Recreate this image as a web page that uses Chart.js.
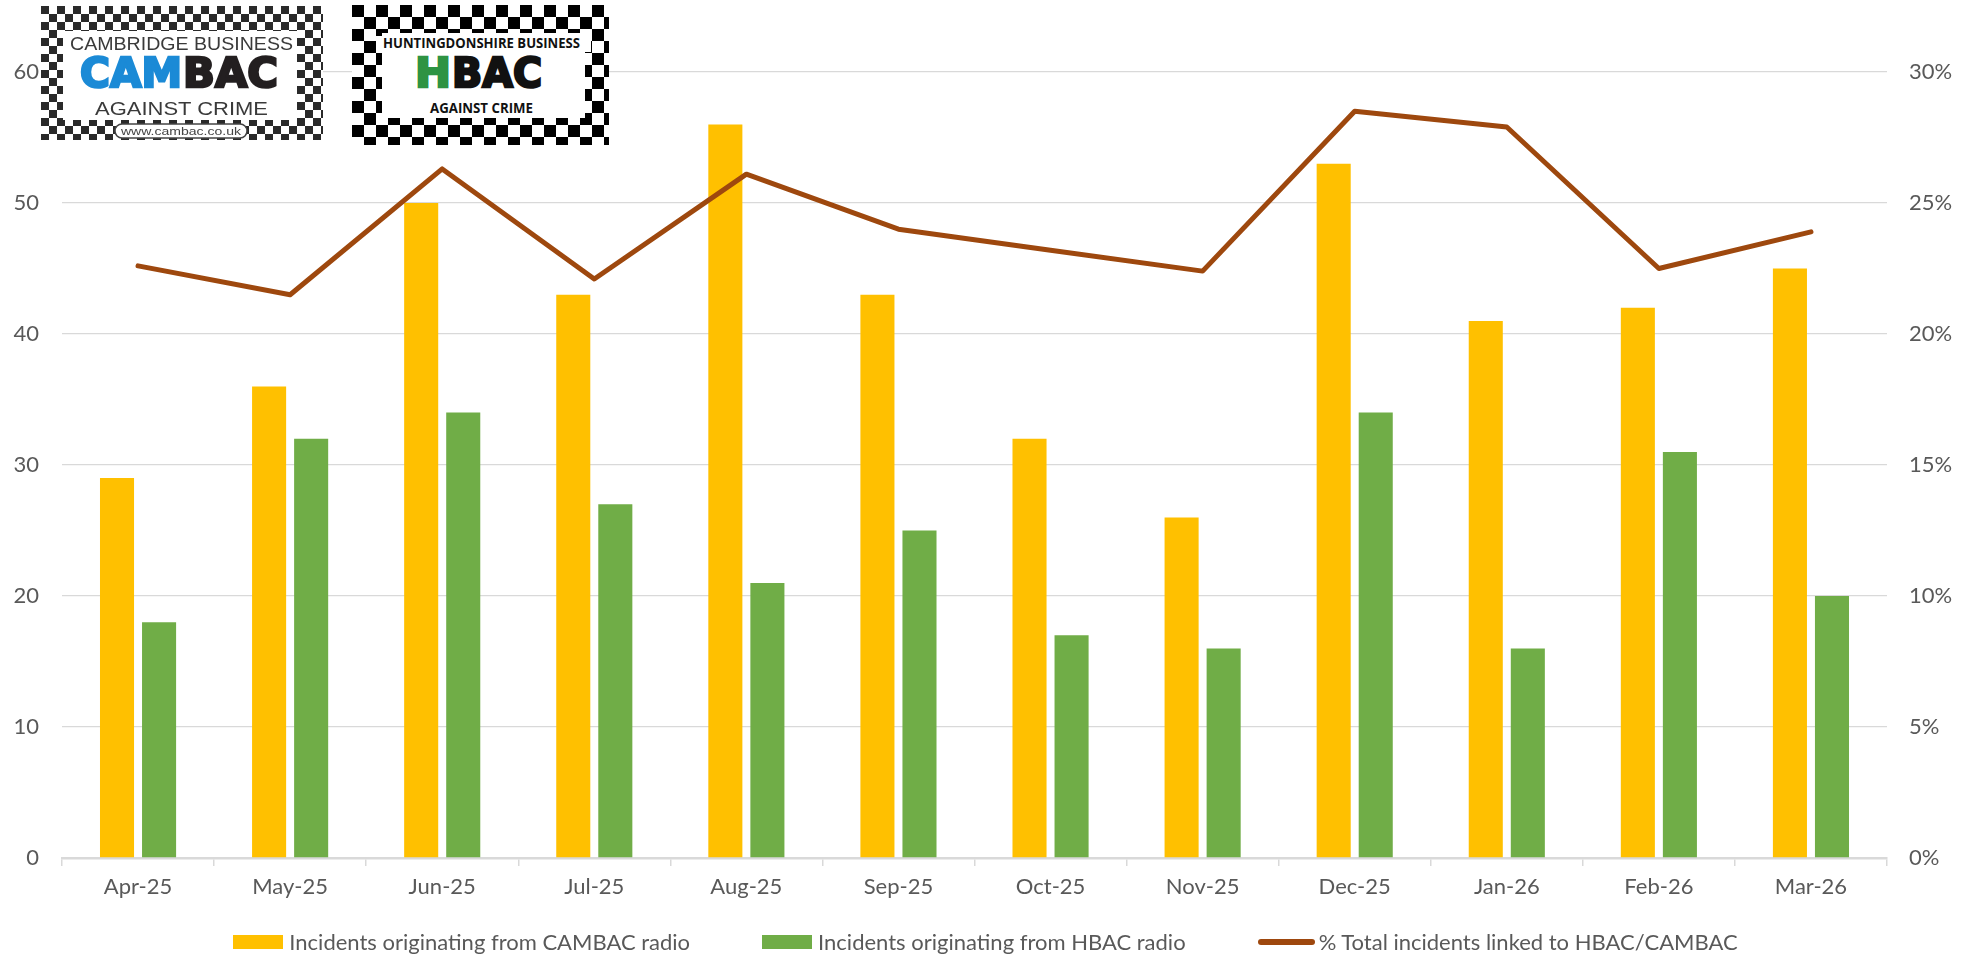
<!DOCTYPE html>
<html>
<head>
<meta charset="utf-8">
<script src="https://cdn.jsdelivr.net/npm/chart.js@4.4.1/dist/chart.umd.min.js"></script>
<style>
  body { margin: 0; background: #fff; }
  #wrap { position: relative; width: 1971px; height: 958px; overflow: hidden; }
  #chart { position: absolute; left: 0; top: 0; }
  .logo { position: absolute; }
  #legend { position: absolute; left: 0; top: 929px; width: 1971px; display: flex; justify-content: center; gap: 72px;
            font: 22px Lato, sans-serif; line-height: 26px; color: #595959; white-space: nowrap; }
  #legend .item { display: flex; align-items: center; }
  #legend .sw { display: inline-block; width: 50px; height: 14px; margin-right: 6px; }
  #legend .ln { display: inline-block; width: 57px; height: 6px; border-radius: 3px; margin-right: 4px; }
</style>
</head>
<body>
<div id="wrap">
  <canvas id="chart" width="1971" height="958"></canvas>

  <!-- CAMBAC logo -->
  <svg class="logo" style="left:41px;top:6px" width="282" height="134">
    <defs>
      <pattern id="chk1" width="16" height="16" patternUnits="userSpaceOnUse">
        <rect width="16" height="16" fill="#fff"/>
        <rect width="8" height="8" fill="#2a2a2a"/>
        <rect x="8" y="8" width="8" height="8" fill="#2a2a2a"/>
      </pattern>
    </defs>
    <rect width="282" height="134" fill="url(#chk1)"/>
    <rect x="22" y="25" width="234" height="89" fill="#fff"/>
    <text x="29" y="44" font-family="Liberation Sans" font-size="18" fill="#3a3a3a" textLength="223" lengthAdjust="spacingAndGlyphs">CAMBRIDGE BUSINESS</text>
    <text x="39" y="81" font-family="DejaVu Sans" font-weight="bold" font-size="41" fill="#1b8ad6" stroke="#1b8ad6" stroke-width="2.5" textLength="102" lengthAdjust="spacingAndGlyphs">CAM</text>
    <text x="142" y="81" font-family="DejaVu Sans" font-weight="bold" font-size="41" fill="#231f20" stroke="#231f20" stroke-width="2.5" textLength="95" lengthAdjust="spacingAndGlyphs">BAC</text>
    <text x="54" y="109" font-family="Liberation Sans" font-size="18" fill="#3a3a3a" textLength="173" lengthAdjust="spacingAndGlyphs">AGAINST CRIME</text>
    <rect x="74" y="118" width="132" height="14" rx="7" fill="#fff" stroke="#444" stroke-width="1.5"/>
    <text x="80" y="129" font-family="Liberation Sans" font-size="11" fill="#444" textLength="120" lengthAdjust="spacingAndGlyphs">www.cambac.co.uk</text>
  </svg>

  <!-- HBAC logo -->
  <svg class="logo" style="left:352px;top:5px" width="257" height="140">
    <defs>
      <pattern id="chk2" width="24" height="24" patternUnits="userSpaceOnUse">
        <rect width="24" height="24" fill="#fff"/>
        <rect width="12" height="12" fill="#000"/>
        <rect x="12" y="12" width="12" height="12" fill="#000"/>
      </pattern>
    </defs>
    <rect width="257" height="140" fill="url(#chk2)"/>
    <rect x="30" y="28" width="203" height="85" fill="#fff"/>
    <rect x="24" y="31" width="215" height="16" fill="#fff"/>
    <text x="31" y="43" font-family="Open Sans" font-weight="bold" font-size="13.5" fill="#111" textLength="197" lengthAdjust="spacingAndGlyphs">HUNTINGDONSHIRE BUSINESS</text>
    <text x="63" y="82" font-family="DejaVu Sans" font-weight="bold" font-size="41" fill="#2e9343" stroke="#2e9343" stroke-width="2.5" textLength="36" lengthAdjust="spacingAndGlyphs">H</text>
    <text x="100" y="82" font-family="DejaVu Sans" font-weight="bold" font-size="41" fill="#111" stroke="#111" stroke-width="2.5" textLength="90" lengthAdjust="spacingAndGlyphs">BAC</text>
    <text x="78" y="108" font-family="Open Sans" font-weight="bold" font-size="14" fill="#111" textLength="103" lengthAdjust="spacingAndGlyphs">AGAINST CRIME</text>
  </svg>

  <div id="legend"></div>
</div>

<script>
// data
const months = ['Apr-25', 'May-25', 'Jun-25', 'Jul-25', 'Aug-25', 'Sep-25',
                'Oct-25', 'Nov-25', 'Dec-25', 'Jan-26', 'Feb-26', 'Mar-26'];
const cambacRadio = [29, 36, 50, 43, 56, 43, 32, 26, 53, 41, 42, 45];
const hbacRadio = [18, 32, 34, 27, 21, 25, 17, 16, 34, 16, 31, 20];
const pctLinked = [22.6, 21.5, 26.3, 22.1, 26.1, 24.0, 23.2, 22.4, 28.5, 27.9, 22.5, 23.9];

const countTicks = [0, 10, 20, 30, 40, 50, 60];
const pctTicks = [0, 5, 10, 15, 20, 25, 30];

const seriesNames = ['Incidents originating from CAMBAC radio',
                     'Incidents originating from HBAC radio',
                     '% Total incidents linked to HBAC/CAMBAC'];
const seriesColors = ['#FFC000', '#70AD47', '#9E480E'];

const textColor = '#595959';
const gridColor = '#d9d9d9';

function drawChart() {
    Chart.defaults.font.family = 'Lato';
    Chart.defaults.font.size = 22;
    Chart.defaults.color = textColor;

    new Chart(document.getElementById('chart'), {
        type: 'bar',
        data: {
            labels: months,
            datasets: [{
                label: seriesNames[0],
                data: cambacRadio,
                backgroundColor: seriesColors[0],
                yAxisID: 'y',
                order: 1,
                barPercentage: 0.81,
                categoryPercentage: 0.553
            }, {
                label: seriesNames[1],
                data: hbacRadio,
                backgroundColor: seriesColors[1],
                yAxisID: 'y',
                order: 1,
                barPercentage: 0.81,
                categoryPercentage: 0.553
            }, {
                type: 'line',
                label: seriesNames[2],
                data: pctLinked,
                borderColor: seriesColors[2],
                backgroundColor: seriesColors[2],
                borderWidth: 5,
                pointRadius: 0,
                tension: 0,
                borderCapStyle: 'round',
                borderJoinStyle: 'round',
                yAxisID: 'y1',
                order: 0
            }]
        },
        options: {
            responsive: false,
            animation: false,
            devicePixelRatio: 1,
            layout: { padding: { top: 72, left: 0, right: 0, bottom: 0 } },
            plugins: {
                legend: { display: false },
                tooltip: { enabled: false }
            },
            scales: {
                x: {
                    grid: { drawOnChartArea: false, color: gridColor, lineWidth: 1.5, tickLength: 8 },
                    border: { color: gridColor, width: 2.5 },
                    ticks: { padding: 8 },
                    afterFit: s => { s.height = 100; }
                },
                y: {
                    position: 'left',
                    min: countTicks[0],
                    max: countTicks[countTicks.length - 1],
                    afterBuildTicks: s => { s.ticks = countTicks.map(v => ({ value: v })); },
                    grid: { color: gridColor, lineWidth: 1.3, drawTicks: false },
                    border: { display: false },
                    ticks: { padding: 23 },
                    afterFit: s => { s.width = 62; }
                },
                y1: {
                    position: 'right',
                    min: pctTicks[0],
                    max: pctTicks[pctTicks.length - 1],
                    afterBuildTicks: s => { s.ticks = pctTicks.map(v => ({ value: v })); },
                    grid: { drawOnChartArea: false, drawTicks: false },
                    border: { display: false },
                    ticks: { padding: 22, callback: v => v + '%' },
                    afterFit: s => { s.width = 84; }
                }
            }
        }
    });

    // legend below the chart
    const legend = document.getElementById('legend');
    seriesNames.forEach((name, i) => {
        const item = document.createElement('div');
        item.className = 'item';
        const sw = document.createElement('span');
        sw.className = i === 2 ? 'ln' : 'sw';
        sw.style.background = seriesColors[i];
        const txt = document.createElement('span');
        txt.textContent = name;
        item.appendChild(sw);
        item.appendChild(txt);
        legend.appendChild(item);
    });
}

document.fonts.load('22px Lato').then(drawChart, drawChart);
</script>
</body>
</html>
